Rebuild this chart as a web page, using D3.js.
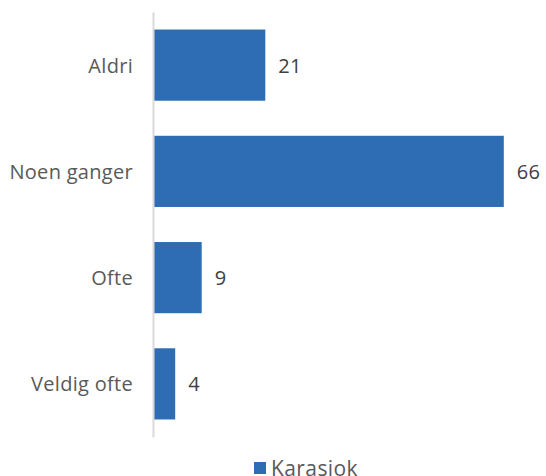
<!DOCTYPE html>
<html>
<head>
<meta charset="utf-8">
<script src="https://cdn.jsdelivr.net/npm/d3@7"></script>
<style>
  body { margin: 0; background: #fff; }
  text { font-family: "Open Sans", "DejaVu Sans", sans-serif; }
</style>
</head>
<body>
<div id="root"></div>
<script>
const categories = ["Aldri", "Noen ganger", "Ofte", "Veldig ofte"];
const values = [21, 66, 9, 4];
const seriesName = "Karasjok";

const width = 546;
const height = 476;
const color = "#2e6db4";

const svg = d3.select("#root")
  .append("svg")
  .attr("width", width)
  .attr("height", height);

// scales
const xScale = d3.scaleLinear().domain([0, 70]).range([154, 154 + 70 * 5.3]);
const yScale = d3.scaleBand().domain(categories).range([12, 437]).paddingInner(0.33).paddingOuter(0.165);

// bars
svg.selectAll("rect.bar")
  .data(values)
  .join("rect")
  .attr("class", "bar")
  .attr("x", xScale(0))
  .attr("y", (d, i) => yScale(categories[i]))
  .attr("width", (d) => xScale(d) - xScale(0))
  .attr("height", yScale.bandwidth())
  .attr("fill", color);

// value labels
svg.selectAll("text.val")
  .data(values)
  .join("text")
  .attr("class", "val")
  .attr("x", (d) => xScale(d) + 13)
  .attr("y", (d, i) => yScale(categories[i]) + yScale.bandwidth() / 2)
  .attr("dy", "0.37em")
  .attr("font-size", 20)
  .attr("letter-spacing", 0.3)
  .attr("fill", "#404040")
  .text((d) => d);

// left axis
const leftAxis = d3.axisLeft(yScale).tickSize(0).tickPadding(20);
const gAxis = svg.append("g")
  .attr("transform", `translate(${xScale(0) - 1}, 0)`)
  .call(leftAxis);
gAxis.select(".domain").attr("stroke", "#d9d9d9").attr("stroke-width", 2);
gAxis.selectAll("text")
  .attr("font-size", 20)
  .attr("letter-spacing", 0.3)
  .attr("dy", "0.37em")
  .attr("fill", "#595959")
  .style("font-family", "'Open Sans', sans-serif");

// legend
const legend = svg.append("g").attr("transform", "translate(254, 462)");
legend.append("rect").attr("width", 12).attr("height", 12).attr("fill", color);
legend.append("text")
  .attr("x", 17)
  .attr("y", 13.5)
  .attr("font-size", 21)
  .attr("letter-spacing", 0.4)
  .attr("fill", "#595959")
  .text(seriesName);
</script>
</body>
</html>
